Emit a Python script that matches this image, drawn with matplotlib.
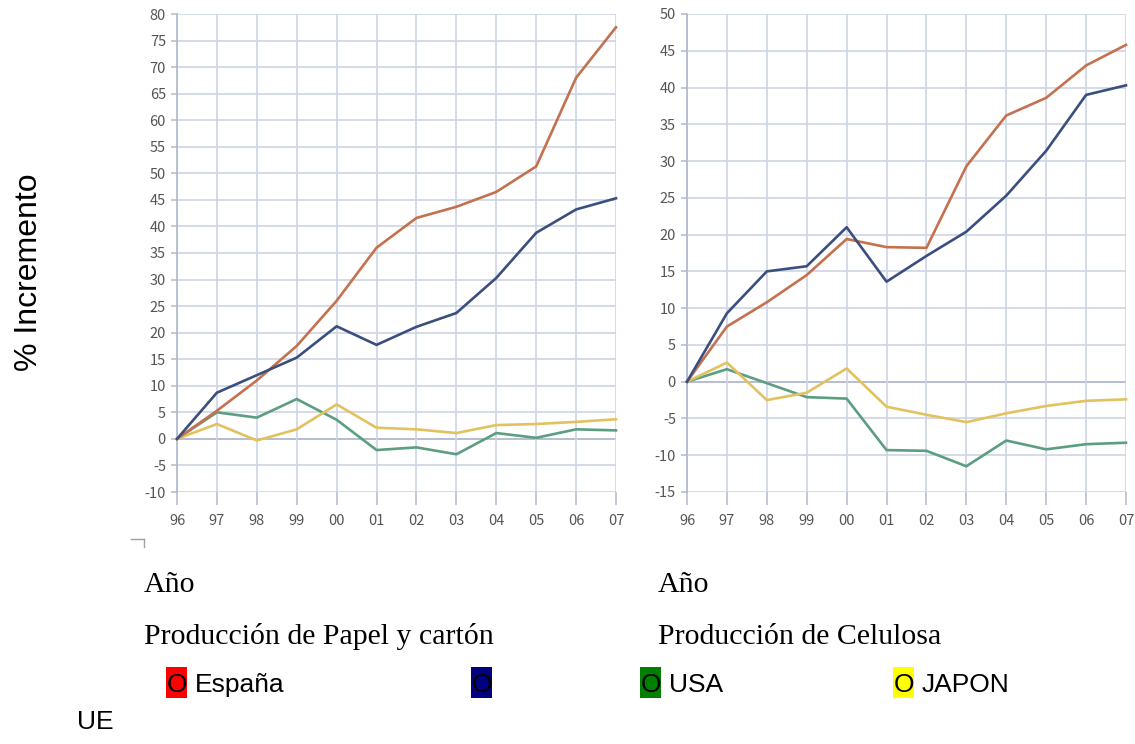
import matplotlib
matplotlib.use('Agg')
import matplotlib.pyplot as plt
from matplotlib.lines import Line2D
from matplotlib.patches import Rectangle

plt.rcParams['axes.unicode_minus'] = False

# ----- data -----
years = ['96', '97', '98', '99', '00', '01', '02', '03', '04', '05', '06', '07']

# Producción de Papel y cartón (% incremento desde 1996)
papel_espana = [0, 5.3, 11.0, 17.5, 26.0, 36.0, 41.6, 43.7, 46.5, 51.3, 68.0, 77.5]
papel_ue = [0, 8.7, 12.0, 15.3, 21.2, 17.7, 21.1, 23.7, 30.3, 38.8, 43.2, 45.3]
papel_usa = [0, 5.0, 4.0, 7.5, 3.6, -2.1, -1.6, -2.9, 1.1, 0.2, 1.8, 1.6]
papel_japon = [0, 2.8, -0.3, 1.8, 6.5, 2.1, 1.8, 1.1, 2.6, 2.8, 3.2, 3.7]

# Producción de Celulosa (% incremento desde 1996)
celulosa_espana = [0, 7.5, 10.8, 14.5, 19.4, 18.3, 18.2, 29.3, 36.2, 38.6, 43.0, 45.8]
celulosa_ue = [0, 9.3, 15.0, 15.7, 21.0, 13.6, 17.1, 20.4, 25.3, 31.4, 39.0, 40.3]
celulosa_usa = [0, 1.7, -0.2, -2.1, -2.3, -9.3, -9.4, -11.5, -8.0, -9.2, -8.5, -8.3]
celulosa_japon = [0, 2.6, -2.5, -1.5, 1.8, -3.4, -4.5, -5.5, -4.3, -3.3, -2.6, -2.4]

line_colors = {'espana': '#c4714f', 'ue': '#3b4f7f', 'usa': '#5b9e80', 'japon': '#e2c25e'}
grid_col = '#cdd4e4'
tick_col = '#555555'
tick_font = 'Noto Sans CJK JP'

W, H = 1135, 744
fig = plt.figure(figsize=(W / 100, H / 100), dpi=100)


def px_axes(x0, x1, y0, y1):
    # pixel box (top-left origin) -> figure fraction
    return fig.add_axes([x0 / W, 1 - y1 / H, (x1 - x0) / W, (y1 - y0) / H])


def draw_panel(ax, series, ymin, ymax):
    x = list(range(len(years)))
    for grid_y in range(ymin, ymax + 1, 5):
        ax.axhline(grid_y, color='#a9b1c8' if grid_y == 0 else grid_col, lw=1.2, zorder=0)
    for gx in x:
        ax.axvline(gx, color=grid_col, lw=1.2, zorder=0)
    for key, vals in series:
        ax.plot(x, vals, color=line_colors[key], lw=1.9, zorder=3, clip_on=False)
    ax.set_xlim(0, len(years) - 1)
    ax.set_ylim(ymin, ymax)
    ax.set_xticks(x)
    ax.set_xticklabels(years)
    ax.set_yticks(range(ymin, ymax + 1, 5))
    for s in ['top', 'right', 'bottom']:
        ax.spines[s].set_visible(False)
    ax.spines['left'].set_color('#b0b8cc')
    ax.spines['left'].set_linewidth(1.2)
    ax.tick_params(axis='x', length=9, width=1.2, color='#b8bfd0', pad=7,
                   labelsize=10.5, labelcolor=tick_col)
    ax.tick_params(axis='y', length=4, width=1.2, color='#b8bfd0', pad=4,
                   labelsize=10.5, labelcolor=tick_col)
    for lab in ax.get_xticklabels() + ax.get_yticklabels():
        lab.set_fontfamily(tick_font)


ax1 = px_axes(177, 616, 14, 492)
draw_panel(ax1, [('usa', papel_usa), ('japon', papel_japon),
                 ('espana', papel_espana), ('ue', papel_ue)], -10, 80)

ax2 = px_axes(687, 1126, 14, 492)
draw_panel(ax2, [('usa', celulosa_usa), ('japon', celulosa_japon),
                 ('espana', celulosa_espana), ('ue', celulosa_ue)], -15, 50)


def ftext(xp, yp, s, **kw):
    return fig.text(xp / W, 1 - yp / H, s, **kw)


ftext(29, 272, '% Incremento', rotation=90, ha='center', va='center',
      fontsize=23, family='Liberation Sans')

serif = dict(fontsize=21.5, family='Liberation Serif', va='baseline', ha='left')
ftext(144, 592, 'Año', **serif)
ftext(144, 644, 'Producción de Papel y cartón', **serif)
ftext(658, 592, 'Año', **serif)
ftext(658, 644, 'Producción de Celulosa', **serif)

# legend row: coloured swatch with an "O" on it, then the name
sans = dict(fontsize=19, family='Liberation Sans', va='baseline', ha='left')
legend_items = [(166, '#ff0000', 'España'), (471, '#000080', ''),
                (640, '#008000', 'USA'), (893, '#ffff00', 'JAPON')]
for xp, col, name in legend_items:
    fig.add_artist(Rectangle((xp / W, 1 - 698 / H), 21 / W, 31 / H,
                             facecolor=col, edgecolor='none', transform=fig.transFigure))
    ftext(xp + 0.5, 692, 'O', **sans)
    if name:
        ftext(xp + 29, 692, name, **sans)
ftext(77, 729, 'UE', **sans)

# small corner mark under the left panel
fig.add_artist(Line2D([131 / W, 144 / W], [1 - 539 / H, 1 - 539 / H], color='#9aa0b0', lw=1))
fig.add_artist(Line2D([144 / W, 144 / W], [1 - 539 / H, 1 - 547 / H], color='#9aa0b0', lw=1))

fig.savefig('out.png', dpi=100)
